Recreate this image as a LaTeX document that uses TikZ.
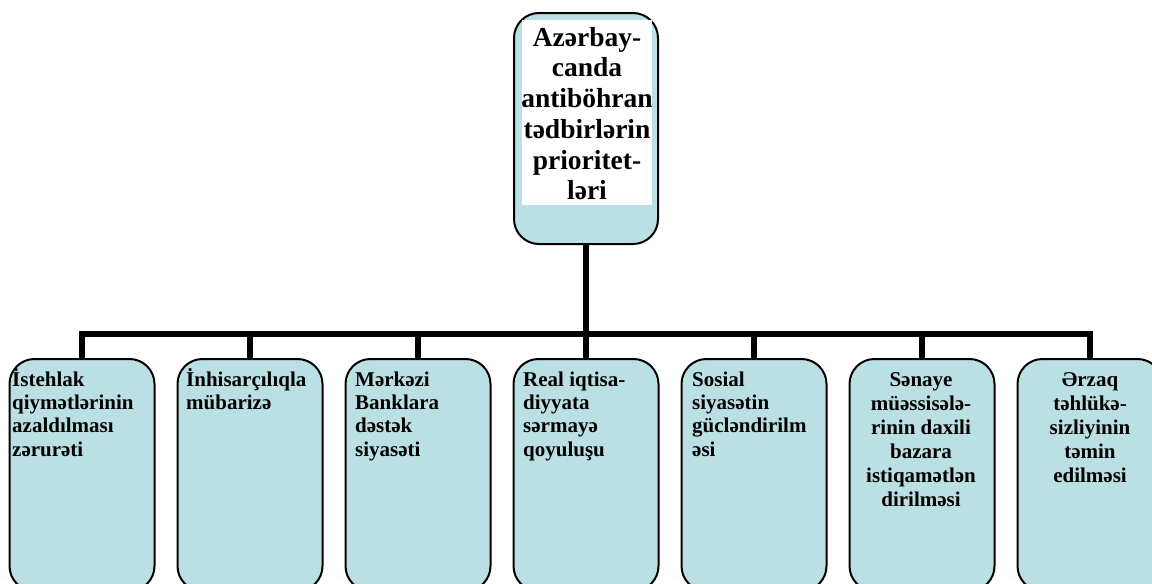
\documentclass[tikz,border=0pt]{standalone}
\usepackage{fontspec}
\setmainfont{Liberation Serif}
\definecolor{boxfill}{RGB}{187,224,227}
\begin{document}
\begin{tikzpicture}[x=1pt,y=-1pt,
  box/.style={draw=black,line width=2pt,fill=boxfill,rounded corners=25pt,
    minimum width=145pt,minimum height=232pt,anchor=north,inner sep=0pt},
  bar/.style={line width=6pt},
  boxtext/.style={inner sep=0pt,font=\fontsize{21}{23.3}\selectfont\bfseries},
  toptext/.style={inner sep=0pt,align=center,anchor=north,
    font=\fontsize{27.5}{30.7}\selectfont\bfseries}]
\useasboundingbox (0,0) rectangle (1152,584);
\clip (0,0) rectangle (1152,584);

% Draw top box
\node[box,minimum width=144pt,minimum height=231pt] (top) at (586,12) {};
\node[fill=white,inner sep=0pt,minimum width=130pt,minimum height=185pt,anchor=north] (topbg) at (587,20) {};
\node[toptext] (toplbl) at (587,27) {Azərbay-\\canda\\antiböhran\\tədbirlərin\\prioritet-\\ləri};

% Draw bottom boxes
\foreach \i/\x in {1/82,2/250,3/418,4/586,5/754,6/922,7/1090}
  \node[box] (b\i) at (\x,358) {};

% Draw connectors
\coordinate (hub) at (586,334);
\draw[bar] (top.south) -- (hub);
\draw[bar] (b1.north) -- (b1.north |- hub) -| (b7.north);
\foreach \i in {2,...,6}
  \draw[bar] (b\i.north) -- (b\i.north |- hub);

% Box labels
\node[boxtext,align=left,anchor=north west] (l1) at (12,368) {\vphantom{İ}İstehlak\\qiymətlərinin\\azaldılması\\zərurəti};
\node[boxtext,align=left,anchor=north west] (l2) at (186,368) {\vphantom{İ}İnhisarçılıqla\\mübarizə};
\node[boxtext,align=left,anchor=north west] (l3) at (355,368) {\vphantom{İ}Mərkəzi\\Banklara\\dəstək\\siyasəti};
\node[boxtext,align=left,anchor=north west] (l4) at (523,368) {\vphantom{İ}Real iqtisa-\\diyyata\\sərmayə\\qoyuluşu};
\node[boxtext,align=left,anchor=north west] (l5) at (692,368) {\vphantom{İ}Sosial\\siyasətin\\gücləndirilm\\əsi};
\node[boxtext,align=center,anchor=north,font=\fontsize{21}{24}\selectfont\bfseries] (l6) at (921,368) {\vphantom{İ}Sənaye\\müəssisələ-\\rinin daxili\\bazara\\istiqamətlən\\dirilməsi};
\node[boxtext,align=center,anchor=north,font=\fontsize{21}{24}\selectfont\bfseries] (l7) at (1090,368) {\vphantom{İ}Ərzaq\\təhlükə-\\sizliyinin\\təmin\\edilməsi};
\end{tikzpicture}
\end{document}
